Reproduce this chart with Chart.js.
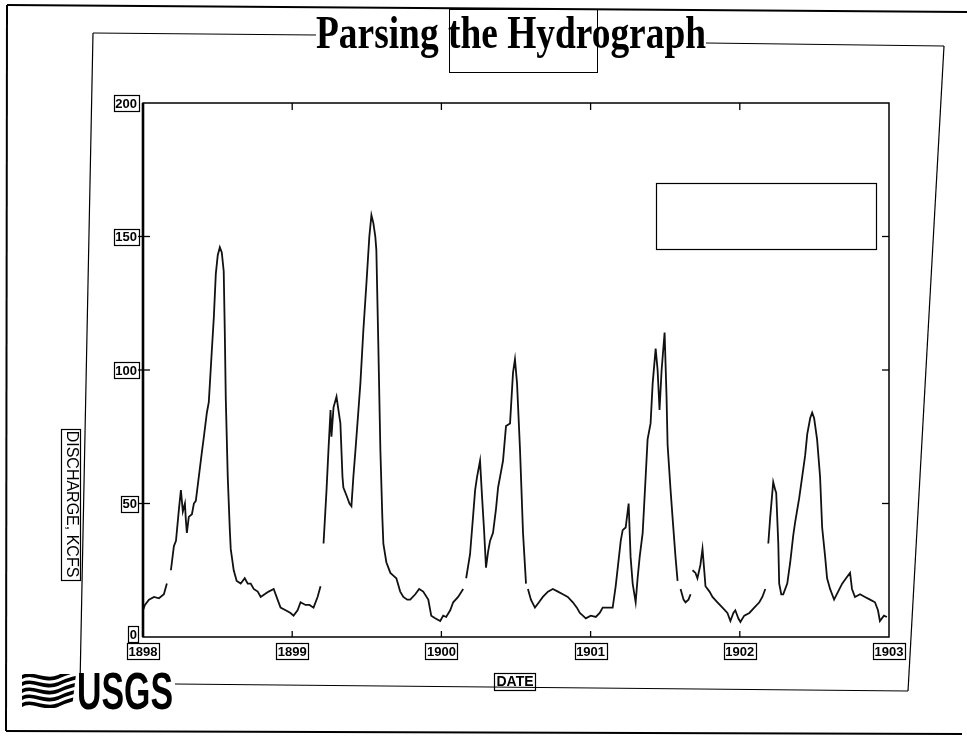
<!DOCTYPE html>
<html>
<head>
<meta charset="utf-8">
<title>Parsing the Hydrograph</title>
<script src="https://cdn.jsdelivr.net/npm/chart.js@4.4.1/dist/chart.umd.min.js"></script>
<style>
  html, body { margin: 0; padding: 0; background: #fff; }
  #wrap { position: relative; width: 967px; height: 739px; }
</style>
</head>
<body>
<div id="wrap"><canvas id="hydro" width="967" height="739"></canvas></div>
<script>
// years on the record, tick labels
const years = [1898, 1899, 1900, 1901, 1902];
const yearTicks = [1898, 1899, 1900, 1901, 1902, 1903];
const flowTicks = [0, 50, 100, 150, 200];

// discharge readings (kcfs), time given as fraction of the year; null = break in the trace
const t1898 = [0.000, 0.013, 0.040, 0.074, 0.107, 0.140, 0.160, 0.170, 0.187, 0.207, 0.221, 0.241, 0.254, 0.267, 0.281, 0.287, 0.294, 0.307, 0.328, 0.341, 0.354, 0.374, 0.394, 0.408, 0.428, 0.441, 0.461, 0.475, 0.488, 0.501, 0.515, 0.528, 0.541, 0.548, 0.555, 0.568, 0.582, 0.588, 0.608, 0.628, 0.655, 0.682, 0.702, 0.722, 0.742, 0.769, 0.789, 0.815, 0.842, 0.876, 0.902, 0.922, 0.956, 0.989];
const q1898 = [10, 12, 14, 15, 14.5, 16, 20, null, 25, 34, 36, 48, 55, 47, 50, 44, 39, 45, 46, 50, 51, 60, 69, 75, 84, 88, 107, 120, 136, 143, 146, 144, 137, 115, 89, 60, 40, 33, 25, 21, 20, 22, 20, 20, 18, 17, 15, 16, 17, 18, 14, 11, 10, 9];

const t1899 = [0.009, 0.036, 0.056, 0.089, 0.116, 0.143, 0.170, 0.190, 0.200, 0.210, 0.230, 0.243, 0.257, 0.263, 0.277, 0.297, 0.310, 0.323, 0.337, 0.343, 0.364, 0.384, 0.397, 0.410, 0.424, 0.444, 0.457, 0.477, 0.497, 0.517, 0.531, 0.544, 0.557, 0.564, 0.577, 0.591, 0.604, 0.611, 0.631, 0.658, 0.678, 0.698, 0.724, 0.745, 0.771, 0.791, 0.825, 0.851, 0.878, 0.912, 0.932, 0.958, 0.992];
const q1899 = [8, 10, 13, 12, 12, 11, 15, 19, null, 35, 55, 70, 85, 75, 86, 90, 85, 80, 60, 56, 53, 50, 49, 60, 70, 85, 95, 115, 132, 150, 158, 155, 150, 145, 110, 70, 45, 35, 28, 24, 23, 22, 17, 15, 14, 14, 16, 18, 17, 14, 8, 7, 6];

const t1900 = [0.012, 0.032, 0.059, 0.079, 0.112, 0.146, 0.150, 0.166, 0.192, 0.212, 0.226, 0.239, 0.259, 0.273, 0.286, 0.299, 0.313, 0.326, 0.346, 0.366, 0.380, 0.400, 0.413, 0.433, 0.460, 0.480, 0.493, 0.507, 0.527, 0.547, 0.567, 0.570, 0.580, 0.600, 0.627, 0.654, 0.680, 0.714, 0.747, 0.781, 0.814, 0.847, 0.881, 0.908, 0.928, 0.948, 0.968];
const q1900 = [8, 7.5, 10, 13, 15, 18, null, 22, 31, 45, 55, 60, 66, 52, 40, 26, 32, 36, 39, 48, 56, 62, 66, 79, 80, 99, 104, 95, 70, 39, 20, null, 18, 14, 11, 13, 15, 17, 18, 17, 16, 15, 13, 11, 9, 8, 7];

const t1901 = [0.001, 0.035, 0.061, 0.081, 0.115, 0.148, 0.168, 0.182, 0.202, 0.215, 0.235, 0.255, 0.268, 0.282, 0.302, 0.315, 0.329, 0.349, 0.369, 0.382, 0.402, 0.416, 0.436, 0.449, 0.462, 0.476, 0.496, 0.509, 0.516, 0.536, 0.549, 0.569, 0.583, 0.590, 0.603, 0.623, 0.636, 0.656, 0.670, 0.675, 0.683, 0.703, 0.716, 0.736, 0.750, 0.763, 0.770, 0.797, 0.817, 0.850, 0.884, 0.917, 0.937, 0.957, 0.970, 0.990];
const q1901 = [8, 7.5, 9, 11, 11, 11, 19, 26, 36, 40, 41, 50, 30, 20, 13, 22, 30, 39, 60, 74, 80, 95, 108, 100, 85, 100, 114, 90, 72, 55, 45, 30, 21, null, 18, 14, 13, 14, 16, null, 25, 24, 22, 27, 33, 24, 19, 17, 15, 13, 11, 9, 6, 9, 10, 7];

const t1902 = [0.004, 0.030, 0.064, 0.097, 0.131, 0.151, 0.171, 0.180, 0.191, 0.204, 0.224, 0.238, 0.244, 0.258, 0.264, 0.278, 0.291, 0.318, 0.338, 0.358, 0.371, 0.398, 0.418, 0.438, 0.452, 0.472, 0.485, 0.498, 0.518, 0.538, 0.552, 0.572, 0.585, 0.605, 0.632, 0.659, 0.686, 0.712, 0.739, 0.752, 0.772, 0.806, 0.839, 0.873, 0.906, 0.926, 0.939, 0.966, 0.986];
const q1902 = [5.6, 8, 9, 11, 13, 15, 18, null, 35, 45, 58, 55, 54, 35, 20, 16, 16, 20, 28, 38, 43, 52, 60, 68, 76, 82, 84, 82, 74, 60, 41, 30, 22, 18, 14, 17, 20, 22, 24, 18, 15, 16, 15, 14, 13, 10, 6, 8, 7.5];

const yearOffsets = [t1898, t1899, t1900, t1901, t1902];
const yearFlows = [q1898, q1899, q1900, q1901, q1902];

const points = years.flatMap((yr, i) =>
    yearOffsets[i].map((t, j) => ({ x: yr + t, y: yearFlows[i][j] }))
);

// draws a label with a thin box around it
function boxedText(ctx, text, cx, cy, font, padX, padY) {
    ctx.font = font;
    const w = ctx.measureText(text).width;
    const h = parseInt(font.match(/(\d+)px/)[1], 10);
    ctx.fillStyle = '#000';
    ctx.textAlign = 'center';
    ctx.textBaseline = 'middle';
    ctx.fillText(text, cx, cy + 1);
    ctx.lineWidth = 1.2;
    ctx.strokeRect(Math.round(cx - w / 2 - padX) + 0.5, Math.round(cy - h / 2 - padY) + 0.5,
        Math.round(w + 2 * padX), Math.round(h + 2 * padY));
}

function line(ctx, x1, y1, x2, y2, w) {
    ctx.lineWidth = w;
    ctx.beginPath();
    ctx.moveTo(x1, y1);
    ctx.lineTo(x2, y2);
    ctx.stroke();
}

const slidePlugin = {
    id: 'slide',
    beforeDraw(chart) {
        const ctx = chart.ctx;
        ctx.save();
        ctx.fillStyle = '#fff';
        ctx.fillRect(0, 0, chart.width, chart.height);
        ctx.restore();
    },
    afterDraw(chart) {
        const { ctx, chartArea: a, scales: { x, y } } = chart;
        ctx.save();
        ctx.strokeStyle = '#000';
        ctx.fillStyle = '#000';

        // outer page frame
        line(ctx, 7, 5, 967, 12, 2);
        line(ctx, 7, 5, 6, 731, 2);
        line(ctx, 6, 731, 962, 734, 2);

        // slide frame
        line(ctx, 93, 33, 316, 35, 1.2);
        line(ctx, 706, 43, 944, 46, 1.2);
        line(ctx, 944, 46, 908, 691, 1.2);
        line(ctx, 175, 684, 908, 691, 1.2);
        line(ctx, 93, 33, 80, 684, 1.2);

        // title
        ctx.font = 'bold 47px "Liberation Serif", "DejaVu Serif", serif';
        const tw = ctx.measureText('Parsing the Hydrograph').width;
        ctx.save();
        ctx.translate(316, 48);
        ctx.scale(390 / tw, 1);
        ctx.textAlign = 'left';
        ctx.textBaseline = 'alphabetic';
        ctx.fillText('Parsing the Hydrograph', 0, 0);
        ctx.restore();
        ctx.lineWidth = 1;
        ctx.strokeRect(449.5, 9.5, 148, 63);

        // plot frame
        ctx.lineWidth = 1.5;
        ctx.strokeRect(a.left, a.top, a.right - a.left, a.bottom - a.top);
        line(ctx, a.left, a.top, a.left, a.bottom, 2.6);

        // tick marks
        yearTicks.slice(1, -1).forEach(v => {
            const px = x.getPixelForValue(v);
            line(ctx, px, a.bottom, px, a.bottom - 6, 1.3);
            line(ctx, px, a.top, px, a.top + 7, 1.3);
        });
        flowTicks.slice(1, -1).forEach(v => {
            const py = y.getPixelForValue(v);
            line(ctx, a.left - 5, py, a.left + 7, py, 1.3);
            line(ctx, a.right - 7, py, a.right, py, 1.3);
        });

        // tick labels
        const tickFont = 'bold 13px "Liberation Sans", Arial, sans-serif';
        flowTicks.forEach(v => {
            ctx.font = tickFont;
            const w = ctx.measureText(String(v)).width;
            let py = y.getPixelForValue(v);
            if (v === 0) py -= 3;
            boxedText(ctx, String(v), a.left - 6 - w / 2, py, tickFont, 1.5, 1.5);
        });
        yearTicks.forEach(v => {
            boxedText(ctx, String(v), x.getPixelForValue(v), a.bottom + 14, tickFont, 1.5, 1.5);
        });

        // axis titles
        boxedText(ctx, 'DATE', 515, 681, 'bold 14px "Liberation Sans", Arial, sans-serif', 2, 1.5);
        ctx.save();
        ctx.translate(72, 504);
        ctx.rotate(Math.PI / 2);
        boxedText(ctx, 'DISCHARGE, KCFS', 0, 0, '16px "Liberation Sans", Arial, sans-serif', 2, 1.5);
        ctx.restore();

        // empty legend box
        ctx.lineWidth = 1.2;
        ctx.strokeRect(656.5, 183.5, 220, 66);

        // USGS logo
        ctx.save();
        ctx.beginPath();
        ctx.moveTo(22, 674);
        ctx.lineTo(76, 674);
        ctx.lineTo(72, 708);
        ctx.lineTo(22, 708);
        ctx.closePath();
        ctx.clip();
        ctx.lineWidth = 3.6;
        [676, 683, 690, 697, 704].forEach(wy => {
            ctx.beginPath();
            ctx.moveTo(20, wy + 2);
            ctx.bezierCurveTo(32, wy - 6, 44, wy + 7, 58, wy + 1);
            ctx.bezierCurveTo(66, wy - 3, 72, wy - 4, 78, wy - 6);
            ctx.stroke();
        });
        ctx.restore();
        ctx.font = 'bold 52px "Liberation Sans Narrow", "Liberation Sans", Arial, sans-serif';
        const uw = ctx.measureText('USGS').width;
        ctx.save();
        ctx.translate(77, 709);
        ctx.scale(96 / uw, 1);
        ctx.textAlign = 'left';
        ctx.textBaseline = 'alphabetic';
        ctx.fillText('USGS', 0, 0);
        ctx.restore();

        ctx.restore();
    }
};

new Chart(document.getElementById('hydro'), {
    type: 'line',
    data: {
        datasets: [{
            label: 'Discharge',
            data: points,
            borderColor: '#111',
            borderWidth: 1.8,
            pointRadius: 0,
            tension: 0,
            spanGaps: false,
            fill: false
        }]
    },
    options: {
        responsive: false,
        animation: false,
        devicePixelRatio: 1,
        layout: { padding: { left: 143, right: 78, top: 103, bottom: 102 } },
        plugins: { legend: { display: false }, tooltip: { enabled: false }, title: { display: false } },
        scales: {
            x: { type: 'linear', min: 1898, max: 1903, display: false },
            y: { type: 'linear', min: 0, max: 200, display: false }
        }
    },
    plugins: [slidePlugin]
});
</script>
</body>
</html>
